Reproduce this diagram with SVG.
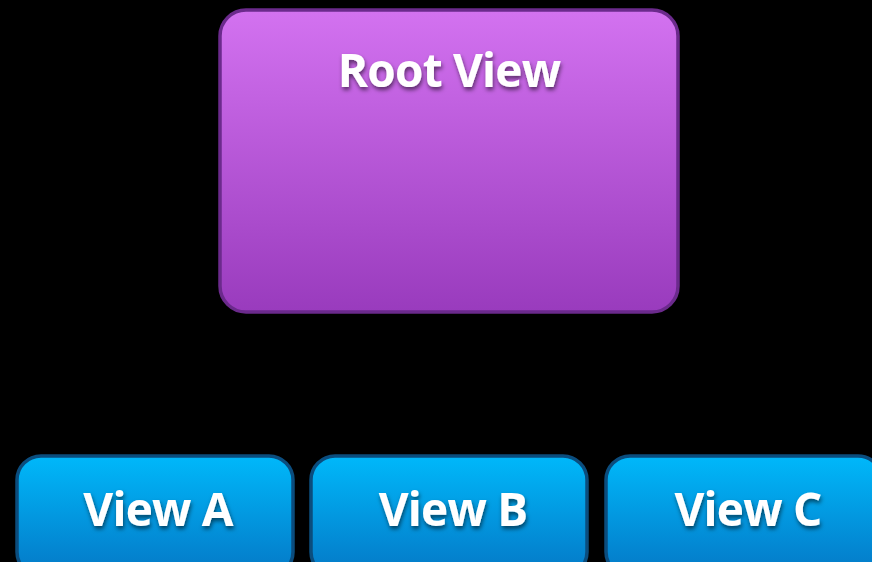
<svg xmlns="http://www.w3.org/2000/svg" width="872" height="562" viewBox="0 0 872 562">
<defs>
<linearGradient id="gp" x1="0" y1="0" x2="0" y2="1">
<stop offset="0" stop-color="#d372f0"/>
<stop offset="1" stop-color="#993bbd"/>
</linearGradient>
<linearGradient id="gb" x1="0" y1="0" x2="0" y2="1">
<stop offset="0" stop-color="#00b8fa"/>
<stop offset="1" stop-color="#0478c6"/>
</linearGradient>
<filter id="sh" x="-20%" y="-30%" width="140%" height="160%">
<feGaussianBlur in="SourceAlpha" stdDeviation="2"/>
<feOffset dx="1" dy="3" result="b"/>
<feFlood flood-color="#000" flood-opacity="0.55"/>
<feComposite in2="b" operator="in"/>
<feMerge><feMergeNode/><feMergeNode in="SourceGraphic"/></feMerge>
</filter>
</defs>
<style>
.lbl{font-family:"Open Sans","Liberation Sans",sans-serif;font-weight:700;font-size:46px;letter-spacing:-0.8px;fill:#fff;text-anchor:middle;filter:url(#sh)}
.purple{fill:url(#gp);stroke:#6b2a8c;stroke-width:3.5}
.blue{fill:url(#gb);stroke:#0b4d7e;stroke-width:3.5}
</style>
<rect width="872" height="562" fill="#000"/>
<g id="root">
<rect class="purple" x="220" y="10" width="458" height="302" rx="26"/>
<text class="lbl" x="449" y="87">Root View</text>
</g>
<g id="viewA">
<rect class="blue" x="17" y="456" width="276" height="120" rx="24"/>
<text class="lbl" x="158" y="526">View A</text>
</g>
<g id="viewB">
<rect class="blue" x="311" y="456" width="276" height="120" rx="24"/>
<text class="lbl" x="453" y="526">View B</text>
</g>
<g id="viewC">
<rect class="blue" x="606" y="456" width="276" height="120" rx="24"/>
<text class="lbl" x="748" y="526">View C</text>
</g>
<g id="connectors"></g>
</svg>
